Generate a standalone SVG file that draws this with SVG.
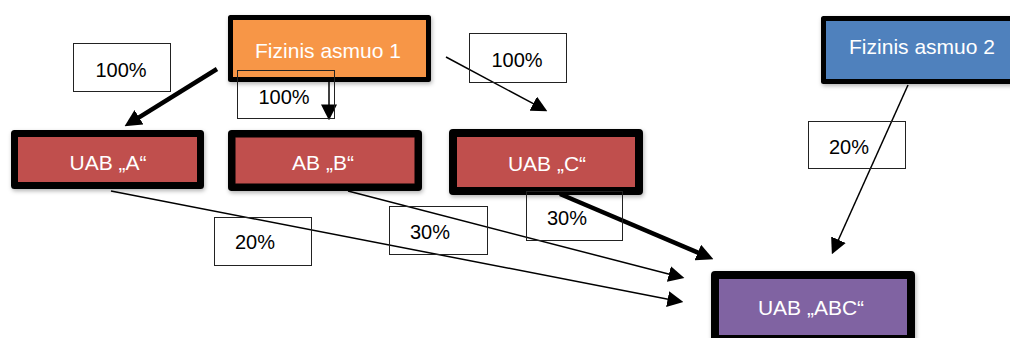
<svg xmlns="http://www.w3.org/2000/svg" width="1010" height="338" viewBox="0 0 1010 338">
  <style>
    .node rect { stroke: #000; stroke-linejoin: round; filter: url(#shadow); }
    .node text { font-family: "Liberation Sans", Arial, sans-serif; font-size: 21px; fill: #fff; text-anchor: middle; }
    .label rect { fill: none; stroke: #222; stroke-width: 1; }
    .label text { font-family: "Liberation Sans", Arial, sans-serif; font-size: 20px; fill: #000; text-anchor: middle; }
    .thin { stroke: #000; stroke-width: 1.5; fill: none; marker-end: url(#headThin); }
    .thick { stroke: #000; stroke-width: 4.5; fill: none; marker-end: url(#headThick); }
  </style>
  <defs>
    <filter id="shadow" x="-10%" y="-20%" width="130%" height="150%">
      <feDropShadow dx="1" dy="2" stdDeviation="2" flood-color="#000" flood-opacity="0.3"/>
    </filter>
    <marker id="headThin" markerUnits="userSpaceOnUse" markerWidth="16" markerHeight="16" viewBox="0 0 15 15" refX="9" refY="7.5" orient="auto">
      <path d="M0,0 L15,7.5 L0,15 z" fill="#000"/>
    </marker>
    <marker id="headThick" markerUnits="userSpaceOnUse" markerWidth="17" markerHeight="17" viewBox="0 0 16 16" refX="8" refY="8" orient="auto">
      <path d="M0,0 L16,8 L0,16 z" fill="#000"/>
    </marker>
  </defs>

  <rect width="1010" height="338" fill="#fff"/>

  <g id="connectors">
    <line class="thick" x1="217" y1="69" x2="131.8" y2="121.8"/>
    <line class="thin" x1="329" y1="82" x2="329" y2="114"/>
    <line class="thin" x1="446" y1="57" x2="541.7" y2="108.2"/>
    <line class="thick" x1="560" y1="194" x2="705.6" y2="255.9"/>
    <line class="thin" x1="111" y1="191" x2="677.1" y2="300.9"/>
    <line class="thin" x1="348" y1="191" x2="678.2" y2="276.5"/>
    <line class="thin" x1="908" y1="85" x2="834.5" y2="248.5"/>
  </g>

  <g id="fizinis1" class="node">
    <rect x="230.5" y="17.5" width="198" height="62" fill="#F79646" stroke-width="5"/>
    <text x="328" y="57.5">Fizinis asmuo 1</text>
  </g>
  <g id="fizinis2" class="node">
    <rect x="823.5" y="18.5" width="197" height="63" fill="#4F81BD" stroke-width="5"/>
    <text x="922" y="53.5">Fizinis asmuo 2</text>
  </g>
  <g id="uabA" class="node">
    <rect x="14.5" y="133.5" width="186" height="52" fill="#C0504D" stroke-width="7"/>
    <text x="108" y="169.5">UAB „A“</text>
  </g>
  <g id="abB" class="node">
    <rect x="231.75" y="133.75" width="186.5" height="53.5" fill="#C0504D" stroke-width="7.5"/>
    <text x="323" y="169.5">AB „B“</text>
  </g>
  <g id="uabC" class="node">
    <rect x="453" y="133" width="186" height="58" fill="#C0504D" stroke-width="8"/>
    <text x="547" y="170.5">UAB „C“</text>
  </g>
  <g id="uabABC" class="node">
    <rect x="715" y="275" width="196" height="64" fill="#8064A2" stroke-width="8"/>
    <text x="811" y="314.5">UAB „ABC“</text>
  </g>

  <g id="labels">
    <g class="label"><rect x="73.5" y="43.5" width="97" height="48"/><text x="121" y="77">100%</text></g>
    <g class="label"><rect x="237.5" y="70.5" width="97" height="48"/><text x="284" y="104">100%</text></g>
    <g class="label"><rect x="469.5" y="33.5" width="97" height="49"/><text x="517" y="67">100%</text></g>
    <g class="label"><rect x="808.5" y="121.5" width="97" height="47"/><text x="849" y="154">20%</text></g>
    <g class="label"><rect x="214.5" y="217.5" width="97" height="48"/><text x="255" y="249">20%</text></g>
    <g class="label"><rect x="389.5" y="206.5" width="98" height="48"/><text x="430" y="239">30%</text></g>
    <g class="label"><rect x="526.5" y="191.5" width="96" height="49"/><text x="567" y="225">30%</text></g>
  </g>
</svg>
